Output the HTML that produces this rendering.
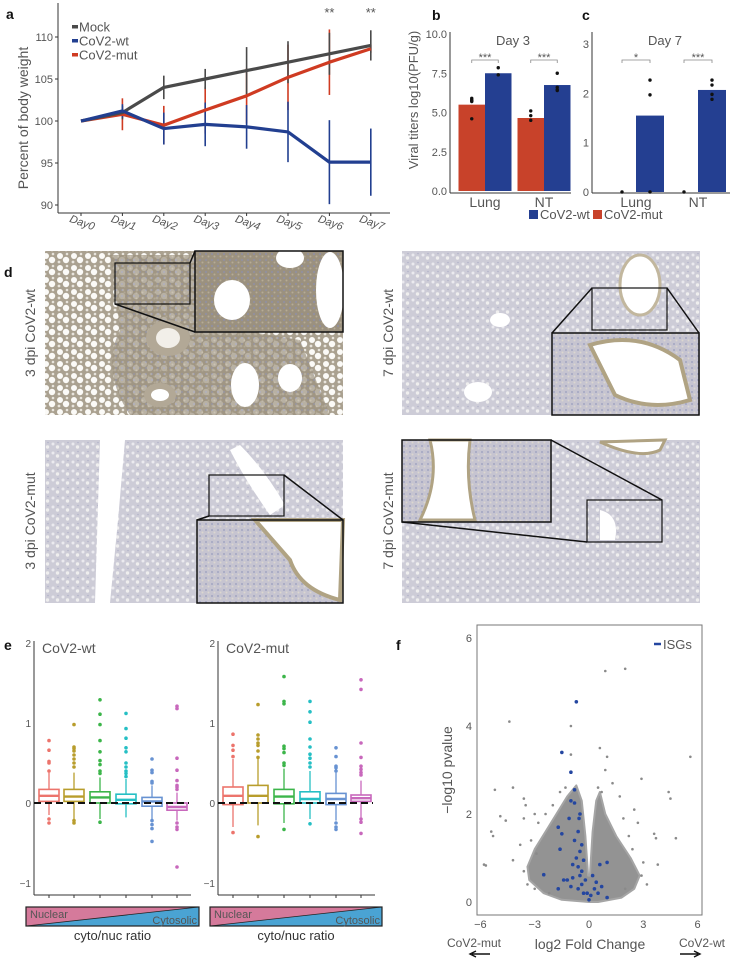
<!DOCTYPE html>
<html><head><meta charset="utf-8"><style>
html,body{margin:0;padding:0;background:#fff}
svg{display:block;font-family:"Liberation Sans",sans-serif}
text{fill:#555}
</style></head><body>
<svg id="fig" width="733" height="959" viewBox="0 0 733 959">
<defs>
<pattern id="alvTan" width="14" height="12" patternUnits="userSpaceOnUse">
<rect width="14" height="12" fill="#aaa190"/><circle cx="4" cy="4" r="3" fill="#fbfaf7"/><circle cx="10" cy="8" r="3.2" fill="#fbfaf7"/><circle cx="11" cy="2" r="1.3" fill="#e8e4dc"/><circle cx="3" cy="10" r="1.4" fill="#e8e4dc"/></pattern>
<pattern id="alvBlue" width="10" height="9" patternUnits="userSpaceOnUse">
<rect width="10" height="9" fill="#cdccd7"/><circle cx="3" cy="3" r="1.5" fill="#ebeaef"/><circle cx="7.5" cy="6" r="1.7" fill="#efeeee"/><circle cx="8" cy="1.5" r="0.8" fill="#b3b4c9"/></pattern>
<pattern id="tisTan" width="6" height="6" patternUnits="userSpaceOnUse"><rect width="6" height="6" fill="#9b917f"/><circle cx="2" cy="2" r="1" fill="#8f90a6"/><circle cx="4.5" cy="4.5" r="1" fill="#b6ab95"/></pattern>
<pattern id="tisBlue" width="6" height="6" patternUnits="userSpaceOnUse"><rect width="6" height="6" fill="#c6c4d0"/><circle cx="2" cy="2" r="1" fill="#a3a6c2"/><circle cx="4.5" cy="4.5" r="1" fill="#dcd7cf"/></pattern>
</defs>

<text x="6" y="19" font-size="14" font-weight="bold" style="fill:#111">a</text>
<text x="432" y="20" font-size="14" font-weight="bold" style="fill:#111">b</text>
<text x="582" y="20" font-size="14" font-weight="bold" style="fill:#111">c</text>
<text x="4" y="277" font-size="14" font-weight="bold" style="fill:#111">d</text>
<text x="4" y="650" font-size="14" font-weight="bold" style="fill:#111">e</text>
<text x="396" y="650" font-size="14" font-weight="bold" style="fill:#111">f</text>

<g id="panelA"></g>
<g id="panelB"></g>
<g id="panelC"></g>

<g>
<text transform="translate(35,333) rotate(-90)" text-anchor="middle" font-size="14">3 dpi CoV2-wt</text>
<text transform="translate(393,333) rotate(-90)" text-anchor="middle" font-size="14">7 dpi CoV2-wt</text>
<text transform="translate(35,521) rotate(-90)" text-anchor="middle" font-size="14">3 dpi CoV2-mut</text>
<text transform="translate(393,521) rotate(-90)" text-anchor="middle" font-size="14">7 dpi CoV2-mut</text>

<g>
<rect x="45" y="251" width="298" height="164" fill="url(#alvTan)"/>
<path d="M110 255 L200 255 L240 330 L300 340 L330 415 L130 415 Q100 370 120 330 Z" fill="url(#tisTan)" opacity="0.7"/>
<ellipse cx="168" cy="338" rx="22" ry="18" fill="#b2a896"/><ellipse cx="168" cy="338" rx="12" ry="10" fill="#f2efe9"/>
<ellipse cx="245" cy="385" rx="14" ry="22" fill="#fff"/><ellipse cx="160" cy="395" rx="16" ry="12" fill="#b2a896"/><ellipse cx="160" cy="395" rx="9" ry="6" fill="#fff"/>
<ellipse cx="290" cy="378" rx="12" ry="14" fill="#fff"/>
<rect x="195" y="251" width="148" height="81" fill="url(#tisTan)"/>
<ellipse cx="232" cy="300" rx="18" ry="20" fill="#fff"/><ellipse cx="330" cy="290" rx="14" ry="38" fill="#fff"/><ellipse cx="290" cy="258" rx="14" ry="10" fill="#fff"/>
<rect x="115" y="263" width="75" height="41" fill="none" stroke="#111" stroke-width="1.2"/>
<line x1="115" y1="304" x2="195" y2="332" stroke="#111" stroke-width="1.5"/><line x1="190" y1="263" x2="195" y2="251" stroke="#111" stroke-width="1.5"/>
<rect x="195" y="251" width="148" height="81" fill="none" stroke="#111" stroke-width="1.5"/>
</g>
<g>
<rect x="402" y="251" width="298" height="164" fill="url(#alvBlue)"/>
<ellipse cx="640" cy="285" rx="20" ry="30" fill="#fff" stroke="#c2b79e" stroke-width="3"/>
<ellipse cx="500" cy="320" rx="10" ry="7" fill="#fff"/><ellipse cx="478" cy="392" rx="14" ry="10" fill="#fff"/>
<rect x="552" y="333" width="147" height="82" fill="url(#tisBlue)"/>
<path d="M590 345 Q640 330 680 360 L690 400 Q650 412 615 395 Z" fill="#fff" stroke="#b0a383" stroke-width="4"/>
<rect x="592" y="288" width="75" height="42" fill="none" stroke="#111" stroke-width="1.2"/>
<line x1="552" y1="333" x2="592" y2="288" stroke="#111" stroke-width="1.5"/><line x1="699" y1="333" x2="667" y2="288" stroke="#111" stroke-width="1.5"/>
<rect x="552" y="333" width="147" height="82" fill="none" stroke="#111" stroke-width="1.5"/>
</g>
<g>
<rect x="45" y="440" width="298" height="163" fill="url(#alvBlue)"/>
<path d="M100 440 L125 440 L118 520 L110 603 L95 603 Z" fill="#fff"/>
<path d="M240 445 Q265 470 285 505 L270 515 Q245 480 230 450 Z" fill="#fff"/>
<rect x="197" y="520" width="146" height="83" fill="url(#tisBlue)"/>
<path d="M255 520 L343 520 L340 600 Q300 590 290 560 Z" fill="#fff" stroke="#b0a383" stroke-width="4"/>
<rect x="209" y="475" width="75" height="41" fill="none" stroke="#111" stroke-width="1.2"/>
<line x1="197" y1="520" x2="209" y2="516" stroke="#111" stroke-width="1.5"/><line x1="343" y1="520" x2="284" y2="475" stroke="#111" stroke-width="1.5"/>
<rect x="197" y="520" width="146" height="83" fill="none" stroke="#111" stroke-width="1.5"/>
</g>
<g>
<rect x="402" y="440" width="298" height="163" fill="url(#alvBlue)"/>
<path d="M600 442 Q640 460 660 450 L665 440 Z" fill="#fff" stroke="#b0a383" stroke-width="3"/>
<rect x="402" y="440" width="149" height="82" fill="url(#tisBlue)"/>
<path d="M430 440 L470 440 Q465 480 475 520 L420 520 Q440 480 430 440 Z" fill="#fff" stroke="#b0a383" stroke-width="3"/>
<path d="M600 510 Q620 515 615 540 L600 540 Z" fill="#fff"/>
<rect x="587" y="500" width="75" height="42" fill="none" stroke="#111" stroke-width="1.2"/>
<line x1="551" y1="440" x2="662" y2="500" stroke="#111" stroke-width="1.5"/><line x1="402" y1="522" x2="587" y2="542" stroke="#111" stroke-width="1.5"/>
<rect x="402" y="440" width="149" height="82" fill="none" stroke="#111" stroke-width="1.5"/>
</g>
</g>

<g id="panelE"></g>
<g id="panelF"></g>
</svg>

<script>
// ---------- Panel a data ----------
const days = ["Day0","Day1","Day2","Day3","Day4","Day5","Day6","Day7"];
const weightTicks = [90,95,100,105,110];
const mockMean = [100,101,104,105,106,107,108,109];
const mockErr  = [0,0.8,1.4,1.2,2.8,2.5,2.5,1.8];
const wtMean   = [100,101.2,99.1,99.6,99.3,98.7,95.1,95.1];
const wtErr    = [0,0.8,1.9,2.6,2.6,3.6,5,4];
const mutMean  = [100,100.8,99.5,101.3,103,105.2,107,108.6];
const mutErr   = [0,1.9,2.3,2.8,3.3,3.9,3.9,0.5];
const starDays = [6,7];

// ---------- Panel b/c data ----------
const tissues = ["Lung","NT"];
const day3Ticks = [0,2.5,5,7.5,10];
const day3Mut = [5.5,4.65];
const day3Wt  = [7.5,6.75];
const day3MutPts = [[5.9,5.8,5.75,5.7,4.6],[5.1,4.8,4.5]];
const day3WtPts  = [[7.85,7.4],[7.5,6.6,6.45,6.4]];
const day3Sig = ["***","***"];
const day7Ticks = [0,1,2,3];
const day7Mut = [0,0];
const day7Wt  = [1.55,2.07];
const day7MutPts = [[0],[0]];
const day7WtPts  = [[2.27,1.97,0],[2.27,2.17,1.98,1.88]];
const day7Sig = ["*","***"];

// ---------- Panel e data ----------
const eTicks = [-1,0,1,2];
const eColors = ["#ec746c","#b89d2c","#3cb54a","#25bfc4","#6792d2","#c868bc"];
const wtStats = [[-0.15,0.02,0.09,0.17,0.38],[-0.2,0.02,0.08,0.17,0.38],[-0.2,0.0,0.07,0.14,0.32],[-0.18,-0.01,0.04,0.11,0.3],[-0.2,-0.04,0.02,0.07,0.22],[-0.22,-0.09,-0.05,0.0,0.13]];
const wtOut = [[0.78,0.66,0.52,0.5,0.4,-0.2,-0.25],[0.98,0.7,0.68,0.65,0.6,0.55,0.5,0.45,-0.22,-0.25],[1.29,1.11,0.98,0.78,0.64,0.53,0.48,0.4,0.37,-0.24],[1.12,0.93,0.81,0.69,0.64,0.5,0.45,0.4,0.37,0.33],[0.55,0.41,0.38,0.27,0.25,-0.22,-0.27,-0.32,-0.48],[1.21,1.18,0.56,0.41,0.28,0.22,0.2,0.17,-0.25,-0.3,-0.33,-0.8]];
const mutStats = [[-0.3,-0.02,0.09,0.2,0.55],[-0.28,0.0,0.09,0.22,0.55],[-0.25,-0.01,0.08,0.17,0.43],[-0.2,0.0,0.05,0.14,0.4],[-0.22,-0.02,0.05,0.12,0.38],[-0.18,0.02,0.06,0.1,0.28]];
const mutOut = [[0.86,0.72,0.66,0.58,-0.37],[1.23,0.85,0.8,0.75,0.72,0.65,0.57,-0.42],[1.58,1.27,1.24,0.71,0.68,0.63,0.5,0.47,-0.33],[1.27,1.14,1.01,0.8,0.7,0.61,0.56,0.5,0.45,-0.26],[0.69,0.58,0.46,0.44,0.4,-0.25,-0.3,-0.33],[1.54,1.42,0.75,0.57,0.46,0.42,0.38,0.35,-0.2,-0.24,-0.38]];

// ---------- Panel f data ----------
const fxTicks = [-6,-3,0,3,6];
const fyTicks = [0,2,4,6];
const grayPts = [[0.9,5.25],[2.0,5.3],[-4.4,4.1],[-1.0,4.0],[0.6,3.5],[1.0,3.3],[-1.0,3.35],[0.9,3.0],[5.6,3.3],[2.9,2.8],[-5.2,2.55],[-4.2,2.6],[-3.6,2.35],[-3.5,2.2],[-3.0,2.0],[-4.9,1.95],[-4.6,1.85],[-3.6,1.9],[-5.4,1.6],[-5.3,1.5],[-5.8,0.85],[-5.7,0.83],[4.4,2.5],[4.5,2.35],[4.8,1.45],[3.6,1.55],[3.7,1.45],[2.5,2.1],[2.7,1.8],[1.7,2.4],[1.3,2.7],[3.0,0.9],[3.8,0.85],[-4.2,0.95],[-3.8,1.3],[-2.4,2.0],[-2.8,1.8],[-3.2,1.4],[-2.9,1.1],[-3.6,0.7],[-3.4,0.4],[2.4,1.2],[2.9,0.6],[2.2,1.5],[1.9,1.9],[-2.0,2.2],[-1.6,2.5],[-1.3,2.6],[0.7,2.5],[0.5,2.6],[-2.2,0.2],[2.0,0.3],[3.2,0.4],[-3.0,0.3]];
const cloudPoly = [[0,0],[-1.5,0.05],[-2.5,0.2],[-3.3,0.5],[-3.4,0.8],[-3.0,1.2],[-2.4,1.6],[-1.8,2.0],[-1.2,2.4],[-0.7,2.65],[-0.4,2.3],[-0.2,1.5],[-0.05,0.6],[0.05,0.6],[0.2,1.6],[0.4,2.3],[0.6,2.5],[0.9,2.0],[1.5,1.5],[2.3,1.0],[2.8,0.6],[2.5,0.3],[1.8,0.1],[0.5,0]];
const isgPts = [[-0.7,4.55],[-1.5,3.4],[-1.0,2.95],[-0.8,2.55],[-1.0,2.3],[-0.8,2.25],[-0.5,2.0],[-0.55,1.9],[-1.1,1.9],[-1.7,1.7],[-1.5,1.55],[-0.6,1.6],[-0.8,1.4],[-0.4,1.3],[-1.6,1.2],[-0.5,1.15],[-0.7,1.0],[-0.3,0.95],[-0.9,0.85],[-0.6,0.8],[-0.4,0.7],[-0.5,0.6],[0.6,0.85],[1.0,0.9],[-2.5,0.62],[-0.9,0.55],[-0.2,0.5],[-0.4,0.4],[0.4,0.45],[0.7,0.35],[-1.4,0.5],[-1.2,0.5],[-1.7,0.3],[-1.0,0.35],[0.3,0.3],[-0.1,0.2],[0.1,0.15],[0.0,0.05],[1.0,0.1],[-0.3,0.2],[0.5,0.2],[-0.6,0.3],[0.2,0.6]];

const NS = "http://www.w3.org/2000/svg";
function mk(parent, tag, attrs, txt){
  const e = document.createElementNS(NS, tag);
  for (const k in attrs) e.setAttribute(k, attrs[k]);
  if (txt !== undefined) e.textContent = txt;
  parent.appendChild(e);
  return e;
}

// ===== Panel A =====
(function(){
  const g = document.getElementById('panelA');
  const x = i => 81 + i*41.4;
  const y = v => 121 - (v-100)*8.4;
  let e;
  e = mk(g,'line',{x1:58,y1:3,x2:58,y2:213,stroke:'#333','stroke-width':1});
   
  e = mk(g,'line',{x1:58,y1:213,x2:390,y2:213,stroke:'#333','stroke-width':1});
   
  weightTicks.forEach(t=>{
    e = mk(g,'text',{x:53,y:y(t)+4,'text-anchor':'end','font-size':11},String(t));
     
    mk(g,'line',{x1:55,y1:y(t),x2:58,y2:y(t),stroke:'#333'});
  });
  days.forEach((d,i)=>{
    mk(g,'line',{x1:x(i),y1:213,x2:x(i),y2:216,stroke:'#333'});
    e = mk(g,'text',{transform:`translate(${x(i)},226) rotate(20)`,'text-anchor':'middle','font-size':11,'font-style':'italic'},d);
     
  });
  e = mk(g,'text',{transform:'translate(28,118) rotate(-90)','text-anchor':'middle','font-size':14},'Percent of body weight');
   
  const series = [
    {n:'mut',m:mutMean,er:mutErr,c:'#cf3b22'},
    {n:'mock',m:mockMean,er:mockErr,c:'#4a4a4a'},
    {n:'wt',m:wtMean,er:wtErr,c:'#223f90'}];
  series.forEach(s=>{
    s.m.forEach((v,i)=>{
      if(s.er[i]>0){
        e = mk(g,'line',{x1:x(i),x2:x(i),y1:y(v-s.er[i]),y2:y(v+s.er[i]),stroke:s.c,'stroke-width':1.6});
         
      }
    });
  });
  series.forEach(s=>{
    e = mk(g,'polyline',{points:s.m.map((v,i)=>x(i)+','+y(v)).join(' '),fill:'none',stroke:s.c,'stroke-width':3.2,'stroke-linejoin':'round'});
     
  });
  starDays.forEach(i=>{
    e = mk(g,'text',{x:x(i),y:17,'text-anchor':'middle','font-size':13},'**');
     
  });
  const leg = [['Mock','#4a4a4a',27],['CoV2-wt','#223f90',41],['CoV2-mut','#cf3b22',55]];
  leg.forEach(l=>{
    e = mk(g,'rect',{x:72,y:l[2]-2,width:6,height:3.5,fill:l[1]});
     
    e = mk(g,'text',{x:79,y:l[2]+4.5,'font-size':13},l[0]);
     
  });
})();

// ===== Panels B & C =====
function barPanel(gid, ax, ay0, perUnit, xEnd, ticks, tickFmt, centers, mutV, wtV, mutP, wtP, sig, title, titleX, bw){
  const g = document.getElementById(gid);
  const y = v => ay0 - v*perUnit;
  let e;
  e = mk(g,'line',{x1:ax,y1:32,x2:ax,y2:193,stroke:'#333'});
   
  e = mk(g,'line',{x1:ax,y1:193,x2:xEnd,y2:193,stroke:'#333'});
   
  ticks.forEach(t=>{
    e = mk(g,'text',{x:ax-3,y:y(t)+4,'text-anchor':'end','font-size':11},tickFmt(t));
     
  });
  e = mk(g,'text',{x:titleX,y:45,'text-anchor':'middle','font-size':13},title);
   
  centers.forEach((c,i)=>{
    if(mutV[i]>0){
      e = mk(g,'rect',{x:c-bw,y:y(mutV[i]),width:bw,height:y(0)-y(mutV[i]),fill:'#c8422a'});
       
    }
    e = mk(g,'rect',{x:c,y:y(wtV[i]),width:bw,height:y(0)-y(wtV[i]),fill:'#243f91'});
     
    mutP[i].forEach(v=>{ e = mk(g,'circle',{cx:c-bw/2,cy:y(v),r:1.7,fill:'#111'});   });
    wtP[i].forEach(v=>{ e = mk(g,'circle',{cx:c+bw/2,cy:y(v),r:1.7,fill:'#111'});   });
    mk(g,'path',{d:`M${c-bw/2} 63 V60 H${c+bw/2} V63`,fill:'none',stroke:'#888','stroke-width':0.8});
    e = mk(g,'text',{x:c,y:61,'text-anchor':'middle','font-size':11},sig[i]);
     
    e = mk(g,'text',{x:c,y:207,'text-anchor':'middle','font-size':14},tissues[i]);
     
  });
}
barPanel('panelB',450,191,15.7,571,day3Ticks,t=>t.toFixed(1),[485,544],day3Mut,day3Wt,day3MutPts,day3WtPts,day3Sig,'Day 3',513,26.5);
barPanel('panelC',592,192,49.3,730,day7Ticks,t=>String(t),[636,698],day7Mut,day7Wt,day7MutPts,day7WtPts,day7Sig,'Day 7',665,28);
(function(){
  const g = document.getElementById('panelB');
  let e = mk(g,'text',{transform:'translate(418,100) rotate(-90)','text-anchor':'middle','font-size':13},'Viral titers log10(PFU/g)');
   
  e = mk(g,'rect',{x:529,y:210,width:9,height:9,fill:'#243f91'});
   
  e = mk(g,'text',{x:540,y:219,'font-size':13},'CoV2-wt');
   
  e = mk(g,'rect',{x:593,y:210,width:9,height:9,fill:'#c8422a'});
   
  e = mk(g,'text',{x:604,y:219,'font-size':13},'CoV2-mut');
   
})();

// ===== Panel E =====
function boxPanel(ax, xEnd, centers, stats, outs, title, barX0, barX1){
  const g = document.getElementById('panelE');
  const y = v => 803 - v*80;
  let e;
  e = mk(g,'line',{x1:ax,y1:641,x2:ax,y2:895,stroke:'#333'});
   
  e = mk(g,'line',{x1:ax,y1:895,x2:xEnd,y2:895,stroke:'#333'});
   
  eTicks.forEach(t=>{
    e = mk(g,'text',{x:ax-3,y:y(t)+4,'text-anchor':'end','font-size':10},t<0?'\u2212'+Math.abs(t):String(t));
     
  });
  e = mk(g,'text',{x:ax+8,y:653,'font-size':14},title);
   
  centers.forEach((c,i)=>{
    const s = stats[i], col = eColors[i];
    mk(g,'line',{x1:c,y1:895,x2:c,y2:898,stroke:'#333'});
    e = mk(g,'line',{x1:c,x2:c,y1:y(s[0]),y2:y(s[4]),stroke:col,'stroke-width':1.3});
     
    e = mk(g,'rect',{x:c-10,y:y(s[3]),width:20,height:y(s[1])-y(s[3]),fill:'#fff',stroke:col,'stroke-width':1.6});
     
    e = mk(g,'line',{x1:c-10,x2:c+10,y1:y(s[2]),y2:y(s[2]),stroke:col,'stroke-width':2.4});
     
    outs[i].forEach(v=>{
      e = mk(g,'circle',{cx:c,cy:y(v),r:1.8,fill:col});
       
    });
  });
  e = mk(g,'line',{x1:ax,x2:xEnd-2,y1:y(0),y2:y(0),stroke:'#111','stroke-width':2,'stroke-dasharray':'7,4'});
   
  e = mk(g,'polygon',{points:`${barX0},907 ${barX1},907 ${barX0},926`,fill:'#d57a9b'});
   
  e = mk(g,'polygon',{points:`${barX1},907 ${barX1},926 ${barX0},926`,fill:'#4aa3d3'});
   
  mk(g,'line',{x1:barX0,y1:926,x2:barX1,y2:907,stroke:'#222','stroke-width':0.8});
  mk(g,'rect',{x:barX0,y:907,width:barX1-barX0,height:19,fill:'none',stroke:'#222','stroke-width':1.2});
  e = mk(g,'text',{x:barX0+4,y:918,'font-size':11},'Nuclear');
   
  e = mk(g,'text',{x:barX1-2,y:924,'text-anchor':'end','font-size':11},'Cytosolic');
   
  e = mk(g,'text',{x:(barX0+barX1)/2,y:940,'text-anchor':'middle','font-size':13,style:'fill:#333'},'cyto/nuc ratio');
   
}
boxPanel(34,191,[49,74,100,126,152,177],wtStats,wtOut,'CoV2-wt',26,199);
boxPanel(218,375,[233,258,284,310,336,361],mutStats,mutOut,'CoV2-mut',210,382);

// ===== Panel F =====
(function(){
  const g = document.getElementById('panelF');
  const x = v => 589 + v*18.1;
  const y = v => 902 - v*44;
  let e;
  e = mk(g,'rect',{x:477,y:625,width:225,height:290,fill:'none',stroke:'#777','stroke-width':1});
   
  fyTicks.forEach(t=>{
    e = mk(g,'text',{x:472,y:y(t)+4,'text-anchor':'end','font-size':11},String(t));
     
  });
  fxTicks.forEach(t=>{
    e = mk(g,'text',{x:x(t),y:928,'text-anchor':'middle','font-size':11},t<0?'\u2212'+Math.abs(t):String(t));
     
  });
  e = mk(g,'polygon',{points:cloudPoly.map(p=>x(p[0])+','+y(p[1])).join(' '),fill:'#939393',stroke:'#a5a5a5','stroke-width':2,'stroke-linejoin':'round'});
   
  grayPts.forEach(p=>{
    e = mk(g,'circle',{cx:x(p[0]),cy:y(p[1]),r:1.3,fill:'#8a8a8a'});
     
  });
  isgPts.forEach(p=>{
    e = mk(g,'circle',{cx:x(p[0]),cy:y(p[1]),r:1.8,fill:'#2446a0'});
     
  });
  e = mk(g,'line',{x1:654,x2:661,y1:644,y2:644,stroke:'#2446a0','stroke-width':2.5});
   
  e = mk(g,'text',{x:663,y:649,'font-size':13},'ISGs');
   
  e = mk(g,'text',{transform:'translate(452,770) rotate(-90)','text-anchor':'middle','font-size':14},'\u2212log10 pvalue');
   
  e = mk(g,'text',{x:590,y:949,'text-anchor':'middle','font-size':14},'log2 Fold Change');
   
  e = mk(g,'text',{x:474,y:947,'text-anchor':'middle','font-size':12},'CoV2-mut');
   
  e = mk(g,'text',{x:702,y:947,'text-anchor':'middle','font-size':12},'CoV2-wt');
   
  e = mk(g,'path',{d:'M490 954 H472 M476 951 L470 954 L476 957',stroke:'#111','stroke-width':1.4,fill:'none'});
   
  e = mk(g,'path',{d:'M680 954 H698 M694 951 L700 954 L694 957',stroke:'#111','stroke-width':1.4,fill:'none'});
   
})();
</script>
</body></html>
